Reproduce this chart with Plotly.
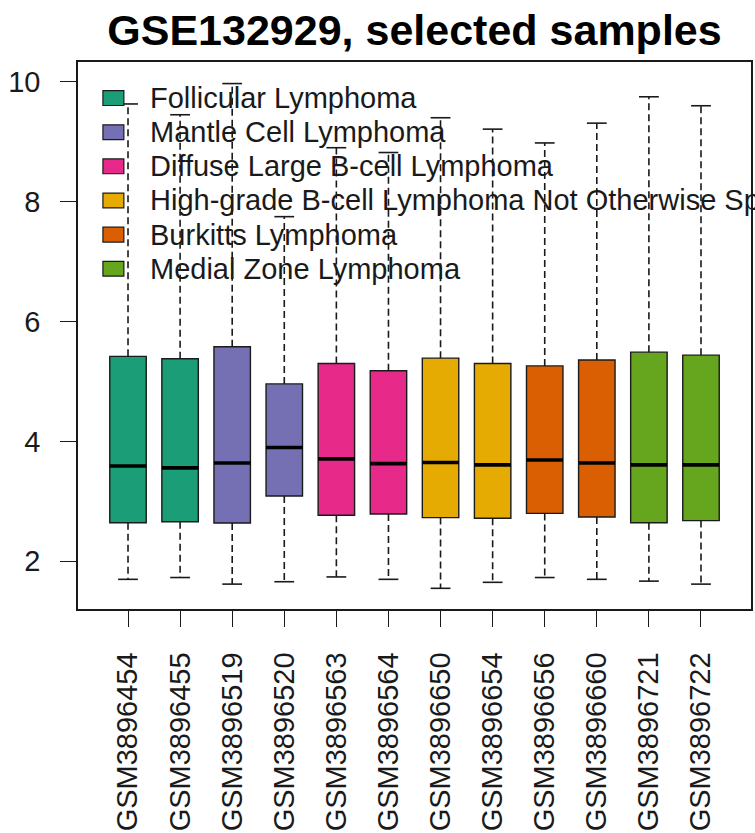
import plotly.graph_objects as go

# ---- data -------------------------------------------------------------
samples = ["GSM3896454", "GSM3896455", "GSM3896519", "GSM3896520",
           "GSM3896563", "GSM3896564", "GSM3896650", "GSM3896654",
           "GSM3896656", "GSM3896660", "GSM3896721", "GSM3896722"]
sample_group = ["Follicular Lymphoma", "Follicular Lymphoma",
                "Mantle Cell Lymphoma", "Mantle Cell Lymphoma",
                "Diffuse Large B-cell Lymphoma", "Diffuse Large B-cell Lymphoma",
                "High-grade B-cell Lymphoma Not Otherwise Specified",
                "High-grade B-cell Lymphoma Not Otherwise Specified",
                "Burkitts Lymphoma", "Burkitts Lymphoma",
                "Medial Zone Lymphoma", "Medial Zone Lymphoma"]
lower_whisker = [1.70, 1.73, 1.62, 1.66, 1.74, 1.70, 1.55, 1.65, 1.73, 1.70, 1.67, 1.62]
q1 = [2.645, 2.66, 2.64, 3.09, 2.77, 2.79, 2.73, 2.72, 2.80, 2.74, 2.645, 2.68]
median = [3.59, 3.56, 3.64, 3.90, 3.71, 3.63, 3.65, 3.61, 3.69, 3.64, 3.61, 3.61]
q3 = [5.42, 5.38, 5.58, 4.96, 5.30, 5.18, 5.39, 5.30, 5.26, 5.36, 5.49, 5.44]
upper_whisker = [9.63, 9.45, 9.97, 7.75, 8.90, 8.82, 9.40, 9.21, 8.98, 9.31, 9.75, 9.60]

legend_groups = ["Follicular Lymphoma", "Mantle Cell Lymphoma",
                 "Diffuse Large B-cell Lymphoma",
                 "High-grade B-cell Lymphoma Not Otherwise Specified",
                 "Burkitts Lymphoma", "Medial Zone Lymphoma"]
group_colors = ["#1B9E77", "#7570B3", "#E7298A", "#E6AB02", "#D95F02", "#66A61E"]
y_ticks = [2, 4, 6, 8, 10]

# ---- styling ----------------------------------------------------------
FONT = "Liberation Sans, Arial, Helvetica, sans-serif"
INK = "#1a1a1a"
BOX_W = 0.70      # box width in x units
CAP_W = 0.38      # whisker cap width in x units
W, H = 755, 833
M_L, M_R, M_T, M_B = 78, 2, 62, 218
PW, PH = W - M_L - M_R, H - M_T - M_B

positions = list(range(1, len(samples) + 1))
color_of = dict(zip(legend_groups, group_colors))

fig = go.Figure()

# dashed whiskers
wx, wy = [], []
for p, lo, a, b, hi in zip(positions, lower_whisker, q1, q3, upper_whisker):
    wx += [p, p, None, p, p, None]
    wy += [b, hi, None, a, lo, None]
fig.add_trace(go.Scatter(x=wx, y=wy, mode="lines", showlegend=False, hoverinfo="skip",
                         line=dict(color=INK, width=1.6, dash="7px,4px")))

# whisker caps
cx, cy = [], []
for p, lo, hi in zip(positions, lower_whisker, upper_whisker):
    cx += [p - CAP_W / 2, p + CAP_W / 2, None, p - CAP_W / 2, p + CAP_W / 2, None]
    cy += [hi, hi, None, lo, lo, None]
fig.add_trace(go.Scatter(x=cx, y=cy, mode="lines", showlegend=False, hoverinfo="skip",
                         line=dict(color=INK, width=1.6)))

# boxes, one trace per lymphoma group
for grp in legend_groups:
    idx = [i for i, g in enumerate(sample_group) if g == grp]
    fig.add_trace(go.Box(
        x=[positions[i] for i in idx],
        q1=[q1[i] for i in idx],
        median=[median[i] for i in idx],
        q3=[q3[i] for i in idx],
        lowerfence=[q1[i] for i in idx],
        upperfence=[q3[i] for i in idx],
        name=grp, width=BOX_W, whiskerwidth=0,
        fillcolor=color_of[grp], line=dict(color=INK, width=1.4),
        showlegend=False,
    ))

# heavy median bars
mx, my = [], []
for p, m in zip(positions, median):
    mx += [p - BOX_W / 2, p + BOX_W / 2, None]
    my += [m, m, None]
fig.add_trace(go.Scatter(x=mx, y=my, mode="lines", showlegend=False, hoverinfo="skip",
                         line=dict(color="black", width=3.6)))

# legend (top-left, no frame)
def px_x(v):
    return (v - M_L) / PW

def px_y(v):
    return 1 - (v - M_T) / PH

row0, row_step = 98.5, 34.5
for k, (grp, col) in enumerate(zip(legend_groups, group_colors)):
    yc = row0 + k * row_step
    fig.add_shape(type="rect", xref="paper", yref="paper",
                  x0=px_x(103), x1=px_x(124), y0=px_y(yc + 7.5), y1=px_y(yc - 7.5),
                  fillcolor=col, line=dict(color=INK, width=1.2))
    fig.add_annotation(text=grp, xref="paper", yref="paper",
                       x=px_x(148), y=px_y(yc), xanchor="left", yanchor="middle",
                       showarrow=False, font=dict(family=FONT, size=29, color=INK))

fig.update_layout(
    width=W, height=H,
    margin=dict(l=M_L, r=M_R, t=M_T, b=M_B),
    paper_bgcolor="white", plot_bgcolor="white",
    showlegend=False,
    title=dict(text="<b>GSE132929, selected samples</b>", x=0.5, xref="paper",
               xanchor="center", y=1 - 30 / H, yref="container", yanchor="middle",
               font=dict(family=FONT, size=43, color="black")),
    font=dict(family=FONT, size=29, color=INK),
)
fig.update_xaxes(
    range=[0.04, 12.96], tickmode="array", tickvals=positions, ticktext=samples,
    tickangle=-90, ticks="outside", ticklen=16, tickwidth=1.4, tickcolor=INK,
    ticklabelstandoff=14,
    showline=True, mirror=True, linecolor=INK, linewidth=1.6,
    showgrid=False, zeroline=False, tickfont=dict(size=29),
)
fig.update_yaxes(
    range=[1.205, 10.33], tickmode="array", tickvals=y_ticks,
    ticks="outside", ticklen=16, tickwidth=1.4, tickcolor=INK,
    ticklabelstandoff=14,
    showline=True, mirror=True, linecolor=INK, linewidth=1.6,
    showgrid=False, zeroline=False, tickfont=dict(size=29),
)

fig.write_html("out.html")
